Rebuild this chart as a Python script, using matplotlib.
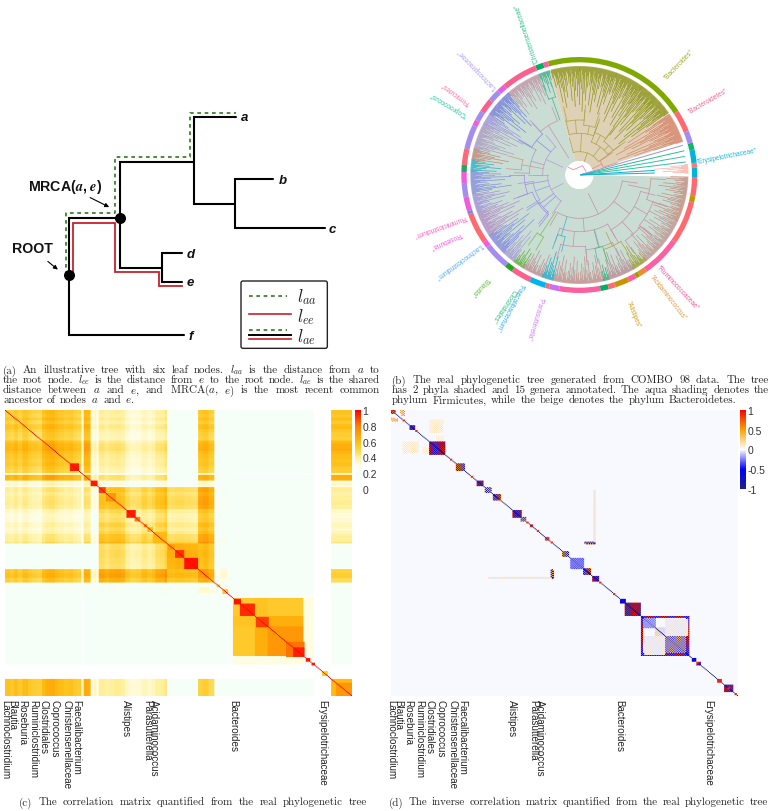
#!/usr/bin/env python3
import numpy as np
import matplotlib
matplotlib.use('Agg')
import matplotlib.pyplot as plt
from matplotlib.collections import LineCollection
from matplotlib.colors import LinearSegmentedColormap
from matplotlib.patches import FancyBboxPatch, Wedge, Circle

plt.rcParams['font.family'] = ['Liberation Sans', 'DejaVu Sans']
plt.rcParams['mathtext.fontset'] = 'cm'

W, H = 772, 812

# ---- panel (a): illustrative tree, in the 1140x930 frame of the panel
tree_paths = [
    ([207, 207, 360], [558, 388, 388]),
    ([360, 360, 582], [388, 218, 218]),
    ([582, 582, 707], [218, 84, 84]),
    ([582, 582, 705], [218, 346, 346]),
    ([705, 705, 820], [346, 270, 270]),
    ([705, 705, 975], [346, 418, 418]),
    ([360, 360, 487], [388, 536, 536]),
    ([487, 487, 545], [536, 492, 492]),
    ([487, 487, 545], [536, 578, 578]),
    ([207, 207, 553], [558, 738, 738]),
]
green_x = [197, 197, 345, 345, 570, 570, 707]
green_y = [558, 372, 372, 204, 204, 71, 71]
red_x = [218, 218, 346, 346, 478, 478, 545]
red_y = [558, 402, 402, 550, 550, 590, 590]
node_x = [207, 360]
node_y = [558, 388]
leaf_names = ['a', 'b', 'c', 'd', 'e', 'f']
leaf_x = [733, 848, 996, 572, 571, 573]
leaf_y = [84, 272, 420, 494, 578, 740]

# ---- panel (b): circular tree, angles in degrees, radii in panel units
ring_segments = [
    (-1, 3.5, '#00b4dc'), (3.5, 6, '#ff7a70'), (6, 12.5, '#00b4dc'), (12.5, 16, '#12b56a'),
    (16, 22, '#a48cf0'), (22, 33, '#ff6a70'), (33, 105.5, '#7fa800'), (105.5, 108, '#ff5f9a'),
    (108, 112, '#00b060'), (112, 130, '#fb5f8c'), (130, 134, '#e55fe0'), (134, 140, '#a48cf0'),
    (140, 147, '#fb5f8c'), (147, 152, '#a48cf0'), (152, 155, '#f060d0'), (155, 167, '#a48cf0'),
    (167, 175, '#fb6a78'), (175, 178.5, '#20a860'), (178.5, 184, '#f05cdc'), (184, 191, '#a48cf0'),
    (191, 198, '#f05cdc'), (198, 199.5, '#6a8cf0'), (199.5, 215, '#ff6a70'), (215, 218, '#f05cdc'),
    (218, 231, '#a48cf0'), (231, 235, '#20a820'), (235, 245, '#fb5f8c'), (245, 253, '#00b4ec'),
    (253, 255, '#ff6a70'), (255, 260, '#c870f0'), (260, 280.5, '#ff5fa0'), (280.5, 284.5, '#00b060'),
    (284.5, 288, '#ff6a70'), (288, 295, '#c89400'), (295, 299, '#ff5fa0'), (299, 301, '#9aa000'),
    (301, 305, '#f08a30'), (305, 325, '#ff5fa0'), (325, 346.5, '#ff6a70'), (346.5, 349.5, '#b89a00'),
    (349.5, 359, '#ff6a70'),
]
# phylum shading: from, to, colour
shade_wedges = [(106, 359, '#c9ddd4'), (18, 106, '#dfd1b6')]
# leaf fringes: from, to, inner radius, colour
fringes = [
    (106, 112, 262, '#20a878'), (112, 131, 235, '#c08aa0'), (131, 146, 205, '#6a72d8'),
    (146, 152, 170, '#9a8ce0'), (152, 166, 205, '#a890c0'), (166, 172, 215, '#c07a68'),
    (172, 178, 235, '#10a8c4'), (178, 190, 205, '#7a80dc'), (190, 200, 215, '#9c84dc'),
    (200, 214, 195, '#b080c8'), (214, 226, 190, '#7c7edc'), (226, 233, 220, '#a494d4'),
    (233, 239, 265, '#50a820'), (239, 250, 255, '#c08088'), (250, 256, 240, '#00a0c4'),
    (256, 283, 245, '#c88080'), (283, 286, 262, '#10a868'), (286, 300, 245, '#b87f8a'),
    (300, 308, 255, '#98900c'), (308, 335, 235, '#c08a88'), (335, 359, 240, '#c88070'),
    (90, 105.5, 205, '#7f8c00'), (70, 90, 190, '#7f8c00'), (55, 70, 175, '#7f8c00'),
    (35, 55, 150, '#7f8c00'), (18, 34, 125, '#d87860'), (1, 6, 225, '#f8a090'),
]
leaf_depth = [0.1, 0.45, 0.2, 0.75, 0.3, 0.12, 0.6, 0.25, 1.0, 0.18, 0.5, 0.08, 0.35, 0.85, 0.22, 0.4, 0.15]
# internal branches: from, to, radius of the arc, radius of the parent, colour
clades = [
    (240, 352, 130, 62, '#c896ac'), (250, 300, 170, 130, '#c896ac'), (300, 345, 190, 130, '#c896ac'),
    (255, 275, 215, 170, '#c896ac'), (275, 296, 225, 170, '#c896ac'), (305, 320, 240, 190, '#c896ac'),
    (320, 340, 235, 190, '#c896ac'), (340, 357, 215, 150, '#c89a90'), (288, 302, 235, 190, '#b0a840'),
    (282, 288, 225, 170, '#50c090'), (250, 257, 190, 130, '#40b8d0'), (234, 240, 215, 130, '#80c060'),
    (180, 235, 95, 55, '#b8a0d8'), (130, 180, 110, 55, '#b8a0d8'), (200, 232, 150, 95, '#a890e0'),
    (180, 200, 165, 95, '#a890e0'), (150, 178, 150, 110, '#b49cc8'), (132, 150, 165, 110, '#8c94e0'),
    (112, 132, 175, 60, '#c89ab0'), (107, 112, 245, 175, '#50b890'), (188, 212, 140, 95, '#9aa0e4'),
    (214, 230, 145, 95, '#9a9ce4'), (165, 175, 175, 110, '#c8a090'),
    (35, 105, 70, 42, '#b0a850'), (70, 104, 125, 70, '#b0a850'), (36, 70, 105, 70, '#b0a850'),
    (85, 103, 165, 125, '#b0a850'), (72, 85, 150, 125, '#b0a850'), (54, 70, 135, 105, '#b0a850'),
    (36, 54, 125, 105, '#b0a850'), (18, 34, 75, 42, '#e09080'),
]
lone_branches = [
    (7, 5, 320, '#30c0a0'), (10, 5, 320, '#30c0a0'), (13, 5, 322, '#20c090'),
    (16, 5, 322, '#9a90e0'), (1.5, 5, 225, '#10b0d0'), (3.5, 5, 225, '#10b0d0'),
]
hole_trace_x = [505, 520, 530, 548, 558]
hole_trace_y = [505, 512, 508, 500, 518]
clade_labels = [
    ('"Christensenellaceae"', 412, 190, 109, '#2fc48a'), ('"Bacteroides"', 797, 238, 46, '#a0a828'),
    ('"Bacteroidetes"', 868, 338, 30, '#f0688e'), ('"Erysipelotrichaceae"', 890, 488, 11, '#1cb8d8'),
    ('"Ruminococcaceae"', 775, 800, -47, '#f0589a'), ('"Acidaminococcus"', 752, 828, -52, '#e09a40'),
    ('"Alistipes"', 683, 905, -68, '#d0a020'), ('"Parasutterella"', 425, 892, 253, '#d080f0'),
    ('"Faecalibacterium"', 365, 850, 242, '#30b0e8'), ('"Clostridiales"', 345, 868, 236, '#30c080'),
    ('"Blautia"', 263, 835, 227, '#60c040'), ('"Lachnoclostridium"', 245, 733, 216, '#50aaf0'),
    ('"Roseburia"', 183, 700, 204, '#f060e0'), ('"Ruminiclostridium"', 200, 650, 199.5, '#ff60c0'),
    ('"Coprococcus"', 200, 345, 149, '#20c8a0'), ('"Firmicutes"', 210, 310, 144, '#ff70a0'),
    ('"Lachnospiraceae"', 288, 265, 134, '#b0a0f0'),
]

# ---- panel (c): correlation matrix, positions are fractions along the matrix
group_edges = [0, .247, .269, .468, .556, .603, .657, .72, .758, .861, .89, .94, 1]
group_base = [
    [.54, .34, .38, .20, .52, .22, .15, .15, .15, .15, .05, .57],
    [0, .45, .30, .18, .33, .20, .15, .15, .15, .15, .05, .34],
    [0, 0, .52, .44, .60, .25, .15, .15, .15, .15, .05, .38],
    [0, 0, 0, .62, .54, .22, .15, .15, .15, .15, .05, .20],
    [0, 0, 0, 0, .60, .30, .15, .15, .15, .15, .05, .48],
    [0, 0, 0, 0, 0, .30, .15, .15, .15, .15, .05, .22],
    [0, 0, 0, 0, 0, 0, .54, .56, .54, .30, .05, .15],
    [0, 0, 0, 0, 0, 0, 0, .66, .64, .29, .05, .15],
    [0, 0, 0, 0, 0, 0, 0, 0, .72, .30, .05, .15],
    [0, 0, 0, 0, 0, 0, 0, 0, 0, .22, .05, .15],
    [0, 0, 0, 0, 0, 0, 0, 0, 0, 0, .10, .05],
    [0, 0, 0, 0, 0, 0, 0, 0, 0, 0, 0, .60],
]
band_ends = [.013, .026, .037, .049, .065, .078, .092, .107, .118, .130, .142, .154, .170, .183, .195, .205,
             .219, .226, .236, .247, .255, .262, .269, .285, .300, .317, .332, .347, .360, .375, .393, .410,
             .422, .434, .447, .460, .468, .49, .515, .535, .556, .57, .585, .603, .62, .64, .657, 1.0]
band_load = [1.0, .96, 1.03, .94, 1.04, .97, .93, .9, 1.06, 1.12, 1.14, 1.07, 1.03, .99, 1.01, .95,
             .92, .6, 1.14, 1.12, .9, 1.0, .87, 1.06, 1.0, 1.05, 1.07, 1.03, .88, .82, .84, .93,
             .87, .92, 1.03, 1.05, 1.14, 1.0, 1.03, 1.0, .98, 1.06, 1.1, 1.0, .84, 1.0, .77, 1.0]
corr_blocks = [
    (.187, .211, .95), (.248, .266, .95), (.27, .289, .9), (.291, .317, .72), (.353, .374, .95),
    (.374, .389, .8), (.400, .409, .8), (.413, .425, .6), (.427, .465, .6), (.472, .49, .7),
    (.49, .515, .92), (.518, .555, .97), (.557, .576, .72), (.61, .62, .5), (.627, .643, .55),
    (.662, .677, .97), (.677, .72, .93), (.725, .758, .9), (.811, .861, .82), (.83, .861, .95),
    (.867, .878, .95), (.885, .892, .95), (.915, .93, .55), (.955, 1.0, .72),
]
tick_names = ['Lachnoclostridium', 'Blautia', 'Roseburia', 'Ruminiclostridium', 'Clostridiales', 'Coprococcus',
              'Christensenellaceae', 'Faecalibacterium', 'Alistipes', 'Parasutterella', 'Acidaminococcus',
              'Bacteroides', 'Erysipelotrichaceae']
tick_pos = [0.0, .022, .051, .082, .110, .142, .178, .204, .349, .411, .430, .659, .915]

# ---- panel (d): inverse correlation, blocks as x0, x1, y0, y1, value, second value of the weave
inv_patches = [
    (.187, .211, .187, .211, -.7, .55), (.248, .264, .248, .264, .95, -.95), (.271, .289, .271, .289, -.75, .3),
    (.295, .314, .295, .314, .6, -.8), (.352, .374, .352, .374, .95, -.8), (.374, .387, .374, .387, -.9, .3),
    (.400, .408, .400, .408, .9, .9), (.445, .454, .445, .454, .9, .7), (.496, .513, .496, .513, -.8, .4),
    (.519, .554, .519, .554, -.4, -.12), (.554, .575, .554, .575, .6, -.6), (.582, .597, .582, .597, .95, -.7),
    (.662, .675, .662, .675, -.55, -.55), (.675, .72, .675, .72, .95, -.95), (.72, .763, .72, .763, -.35, -.04),
    (.767, .785, .767, .785, -.9, .5), (.79, .859, .79, .859, -.4, .25), (.868, .88, .868, .88, -.55, -.55),
    (.883, .893, .883, .893, .85, -.5), (.943, .952, .943, .952, .9, .9), (.96, .984, .96, .984, .9, -.8),
    (.0, .012, .0, .012, -.8, .6), (.055, .068, .055, .068, .95, -.8), (.112, .155, .112, .155, .9, -.7),
    (.132, .153, .09, .11, .12, .02), (.112, .153, .035, .05, .15, .0), (.112, .155, .11, .15, .9, -.7),
    (.045, .08, .11, .15, .15, .0), (.0, .02, .03, .04, .7, .0), (.028, .04, .0, .012, .6, .0),
    (.72, .858, .72, .726, .8, -.6), (.72, .858, .855, .86, .8, -.5), (.72, .726, .72, .858, .8, -.6),
    (.853, .859, .72, .858, .8, -.5), (.763, .79, .763, .79, .12, -.1), (.73, .79, .79, .855, .06, -.06),
    (.465, .468, .56, .59, .5, -.5), (.28, .46, .585, .589, .14, -.04), (.557, .585, .46, .466, -.6, .4),
]
inv_diag_spots = [.0, .036, .07, .17, .23, .31, .39, .42, .46, .60, .64, .88, .945, .97, .99]

# ---- colour bars
corr_cbar_ticks = [0, .2, .4, .6, .8, 1]
inv_cbar_ticks = [-1, -.5, 0, .5, 1]

# ---- captions, one string per line
caption_a = [
    r'(a) An illustrative tree with six leaf nodes. $\boldsymbol{l_{aa}}$ is the distance from $a$ to',
    r'the root node. $\boldsymbol{l_{ee}}$ is the distance from $e$ to the root node. $\boldsymbol{l_{ae}}$ is the shared',
    r'distance between $a$ and $e$, and MRCA($a$, $e$) is the most recent common',
    r'ancestor of nodes $a$ and $e$.',
]
caption_b = [
    '(b) The real phylogenetic tree generated from COMBO 98 data. The tree',
    'has 2 phyla shaded and 15 genera annotated. The aqua shading denotes the',
    'phylum Firmicutes, while the beige denotes the phylum Bacteroidetes.',
]
caption_c = '(c) The correlation matrix quantified from the real phylogenetic tree'
caption_d = '(d) The inverse correlation matrix quantified from the real phylogenetic tree'


def add_px_axes(fig, x0, y0, w, h):
    # rectangle in pixels of the picture, y going down
    ax = fig.add_axes([x0 / W, 1 - (y0 + h) / H, w / W, h / H])
    return ax


def polar_xy(angle, r, cx=538, cy=528):
    t = np.deg2rad(angle)
    return cx + r * np.cos(t), cy - r * np.sin(t)


def justified(ax, text, x0, x1, y, size, fill=True):
    # places a caption line word by word so that it fills x0..x1 like LaTeX does
    words = text.split(' ')
    renderer = ax.figure.canvas.get_renderer()
    items = [ax.text(x0, y, w, fontsize=size, family='cmr10', va='baseline', ha='left', color='#222222') for w in words]
    widths = [t.get_window_extent(renderer).width for t in items]
    gap = (x1 - x0 - sum(widths)) / (len(words) - 1) if fill else size * 0.55
    x = x0
    for t, wd in zip(items, widths):
        t.set_x(x)
        x += wd + gap


def draw_matrix(fig, x0, data, cmap, vmin, cbar_x, cbar_ticks, cbar_labels):
    ax = add_px_axes(fig, x0, 411, 347, 286)
    # colours are mixed after mapping, red and navy cells then read as purple
    im = ax.imshow(data, cmap=cmap, vmin=vmin, vmax=1, aspect='auto', interpolation='hanning',
                   interpolation_stage='rgba', extent=(0, 1, 1, 0))
    ax.set_yticks([])
    ax.set_xticks(tick_pos)
    ax.set_xticklabels(tick_names, rotation=-90, fontsize=7.1, color='#222222')
    ax.tick_params(axis='x', length=0, pad=2)
    for spine in ax.spines.values():
        spine.set_visible(False)
    cax = add_px_axes(fig, cbar_x, 411, 5.5, 79)
    cb = fig.colorbar(im, cax=cax, ticks=cbar_ticks)
    cb.ax.set_yticklabels(cbar_labels, fontsize=7.5, color='#333333')
    cb.ax.tick_params(length=0, pad=1.5)
    cb.outline.set_visible(False)


fig = plt.figure(figsize=(W / 100, H / 100), dpi=100)
fig.patch.set_facecolor('white')

# panel a
ax = add_px_axes(fig, 0, 90, 380, 310)
ax.set_xlim(0, 1140)
ax.set_ylim(930, 0)
ax.axis('off')
ax.plot(red_x, red_y, color='#c8202c', lw=1.3, solid_joinstyle='miter')
ax.plot(green_x, green_y, color='#2a7a1a', lw=1.2, dashes=(2.2, 2.2))
for px, py in tree_paths:
    ax.plot(px, py, color='black', lw=1.5, solid_joinstyle='miter', solid_capstyle='round')
ax.scatter(node_x, node_y, s=48, color='black', zorder=5)
for name, lx, ly in zip(leaf_names, leaf_x, leaf_y):
    ax.text(lx, ly, name, fontsize=9.5, fontweight='bold', style='italic', ha='center', va='center', color='#111111')
ax.text(35, 478, 'ROOT', fontsize=10.2, fontweight='bold', va='center', color='#111111')
ax.text(85, 290, r'MRCA($\boldsymbol{a}$, $\boldsymbol{e}$)', fontsize=10.2, fontweight='bold', va='center', color='#111111')
ax.annotate('', xy=(180, 547), xytext=(137, 512), arrowprops=dict(arrowstyle='-|>', color='black', lw=0.8, mutation_scale=6))
ax.annotate('', xy=(335, 358), xytext=(263, 322), arrowprops=dict(arrowstyle='-|>', color='black', lw=0.8, mutation_scale=6))
ax.add_patch(FancyBboxPatch((723, 576), 259, 202, boxstyle='round,pad=0,rounding_size=6', fc='white', ec='#222222', lw=1.0))
ax.plot([747, 860], [620, 620], color='#2a7a1a', lw=1.2, dashes=(2.2, 2.2))
ax.plot([747, 872], [676, 676], color='#c8202c', lw=1.2)
ax.plot([747, 860], [724, 724], color='#2a7a1a', lw=1.2, dashes=(2.2, 2.2))
ax.plot([747, 872], [738, 738], color='black', lw=1.4)
ax.plot([747, 872], [751, 751], color='#c8202c', lw=1.2)
ax.text(890, 622, r'$l_{aa}$', fontsize=12.5, va='center', color='#222222')
ax.text(892, 682, r'$l_{ee}$', fontsize=12.5, va='center', color='#222222')
ax.text(890, 742, r'$l_{ae}$', fontsize=12.5, va='center', color='#222222')

# panel b
ax = add_px_axes(fig, 400, 0, 372, 400)
ax.set_xlim(0, 1116)
ax.set_ylim(1200, 0)
ax.axis('off')
for a0, a1, col in shade_wedges:
    # the y axis runs downward, so the angles are mirrored for the patch
    ax.add_patch(Wedge((538, 528), 325, -a1, -a0, width=283, fc=col, ec='none', zorder=1))
for a0, a1, r_in, col in fringes:
    angles = np.arange(a0, a1, 0.42)
    segs = []
    for k, ang in enumerate(angles):
        r0 = 325 - (325 - r_in) * leaf_depth[k % len(leaf_depth)]
        x0, y0 = polar_xy(ang, r0)
        x1, y1 = polar_xy(ang, 327)
        segs.append([(x0, y0), (x1, y1)])
    ax.add_collection(LineCollection(segs, colors=col, linewidths=0.5, alpha=0.85, zorder=3))
for a0, a1, r, parent, col in clades:
    arc = np.arange(a0, a1 + 0.5, 0.5)
    arc_x, arc_y = polar_xy(arc, r)
    ax.plot(arc_x, arc_y, color=col, lw=0.55, zorder=4)
    sx, sy = polar_xy(np.array([(a0 + a1) / 2] * 2), np.array([parent, r]))
    ax.plot(sx, sy, color=col, lw=0.55, zorder=4)
    for edge in (a0, a1):
        ex, ey = polar_xy(np.array([edge] * 2), np.array([r, r + 45]))
        ax.plot(ex, ey, color=col, lw=0.55, zorder=4)
ax.add_patch(Circle((538, 528), 42, fc='white', ec='none', zorder=5))
for ang, r0, r1, col in lone_branches:
    bx, by = polar_xy(np.array([ang] * 2), np.array([r0, r1]))
    ax.plot(bx, by, color=col, lw=0.7, zorder=6)
ax.plot(hole_trace_x, hole_trace_y, color='#f08aa8', lw=0.6, zorder=6)
for a0, a1, col in ring_segments:
    ax.add_patch(Wedge((538, 528), 354, -a1, -a0, width=16, fc=col, ec='none', zorder=2))
for name, lx, ly, rot, col in clade_labels:
    ax.text(lx, ly, name, fontsize=4.7, color=col, rotation=rot, rotation_mode='anchor', ha='left', va='center')

# panel c
N = 300
centres = (np.arange(N) + 0.5) / N
groups = np.searchsorted(group_edges, centres) - 1
base = np.array(group_base)
base = base + np.triu(base, 1).T
loads = np.array(band_load)[np.searchsorted(band_ends, centres)]
corr = np.clip(base[np.ix_(groups, groups)] * np.outer(loads, loads), 0, 0.9)
for f0, f1, val in corr_blocks:
    i0, i1 = int(f0 * N), int(np.ceil(f1 * N))
    corr[i0:i1, i0:i1] = val
idx = np.arange(N)
corr[idx, idx] = 1.0

corr_cmap = LinearSegmentedColormap.from_list('corr', [
    (0, '#ffffff'), (.08, '#ffffff'), (.12, '#f5fff9'), (.26, '#f6fff6'), (.3, '#fffde0'), (.4, '#fff09a'),
    (.5, '#ffd440'), (.6, '#ffbb10'), (.8, '#ff8000'), (1, '#ff0000')])
draw_matrix(fig, 5, corr, corr_cmap, 0, 355, corr_cbar_ticks, ['0', '0.2', '0.4', '0.6', '0.8', '1'])

# panel d
inv = np.full((N, N), -0.015)
for x0, x1, y0, y1, val, val2 in inv_patches:
    ix0, ix1 = int(x0 * N), int(np.ceil(x1 * N))
    iy0, iy1 = int(y0 * N), int(np.ceil(y1 * N))
    for i in range(iy0, iy1):
        for j in range(ix0, ix1):
            v = val if (i + j) % 2 == 0 else val2
            inv[i, j] = v
            inv[j, i] = v
inv[idx, idx] = -1.0
for f in inv_diag_spots:
    i = min(int(f * N), N - 2)
    inv[i:i + 2, i:i + 2] = 0.9

inv_cmap = LinearSegmentedColormap.from_list('inv', [
    (0, '#20208a'), (.25, '#0000ff'), (.45, '#c8c8ff'), (.5, '#ffffff'), (.56, '#ffe8c0'), (.75, '#ffa000'), (1, '#ff0000')])
draw_matrix(fig, 391, inv, inv_cmap, -1, 740, inv_cbar_ticks, ['-1', '-0.5', '0', '0.5', '1'])

# captions
ax = add_px_axes(fig, 0, 0, W, H)
ax.set_xlim(0, W)
ax.set_ylim(H, 0)
ax.axis('off')
ax.patch.set_alpha(0)
fig.canvas.draw()
for k, line in enumerate(caption_a):
    justified(ax, line, 3, 380, 373.5 + 10 * k, 7.9, fill=k < 3)
for k, line in enumerate(caption_b):
    justified(ax, line, 392, 769, 383.5 + 10 * k, 7.9, fill=k < 2)
justified(ax, caption_c, 19, 367, 805.5, 7.9)
justified(ax, caption_d, 389, 768, 805.5, 7.9)

fig.savefig('out.png', dpi=100)
